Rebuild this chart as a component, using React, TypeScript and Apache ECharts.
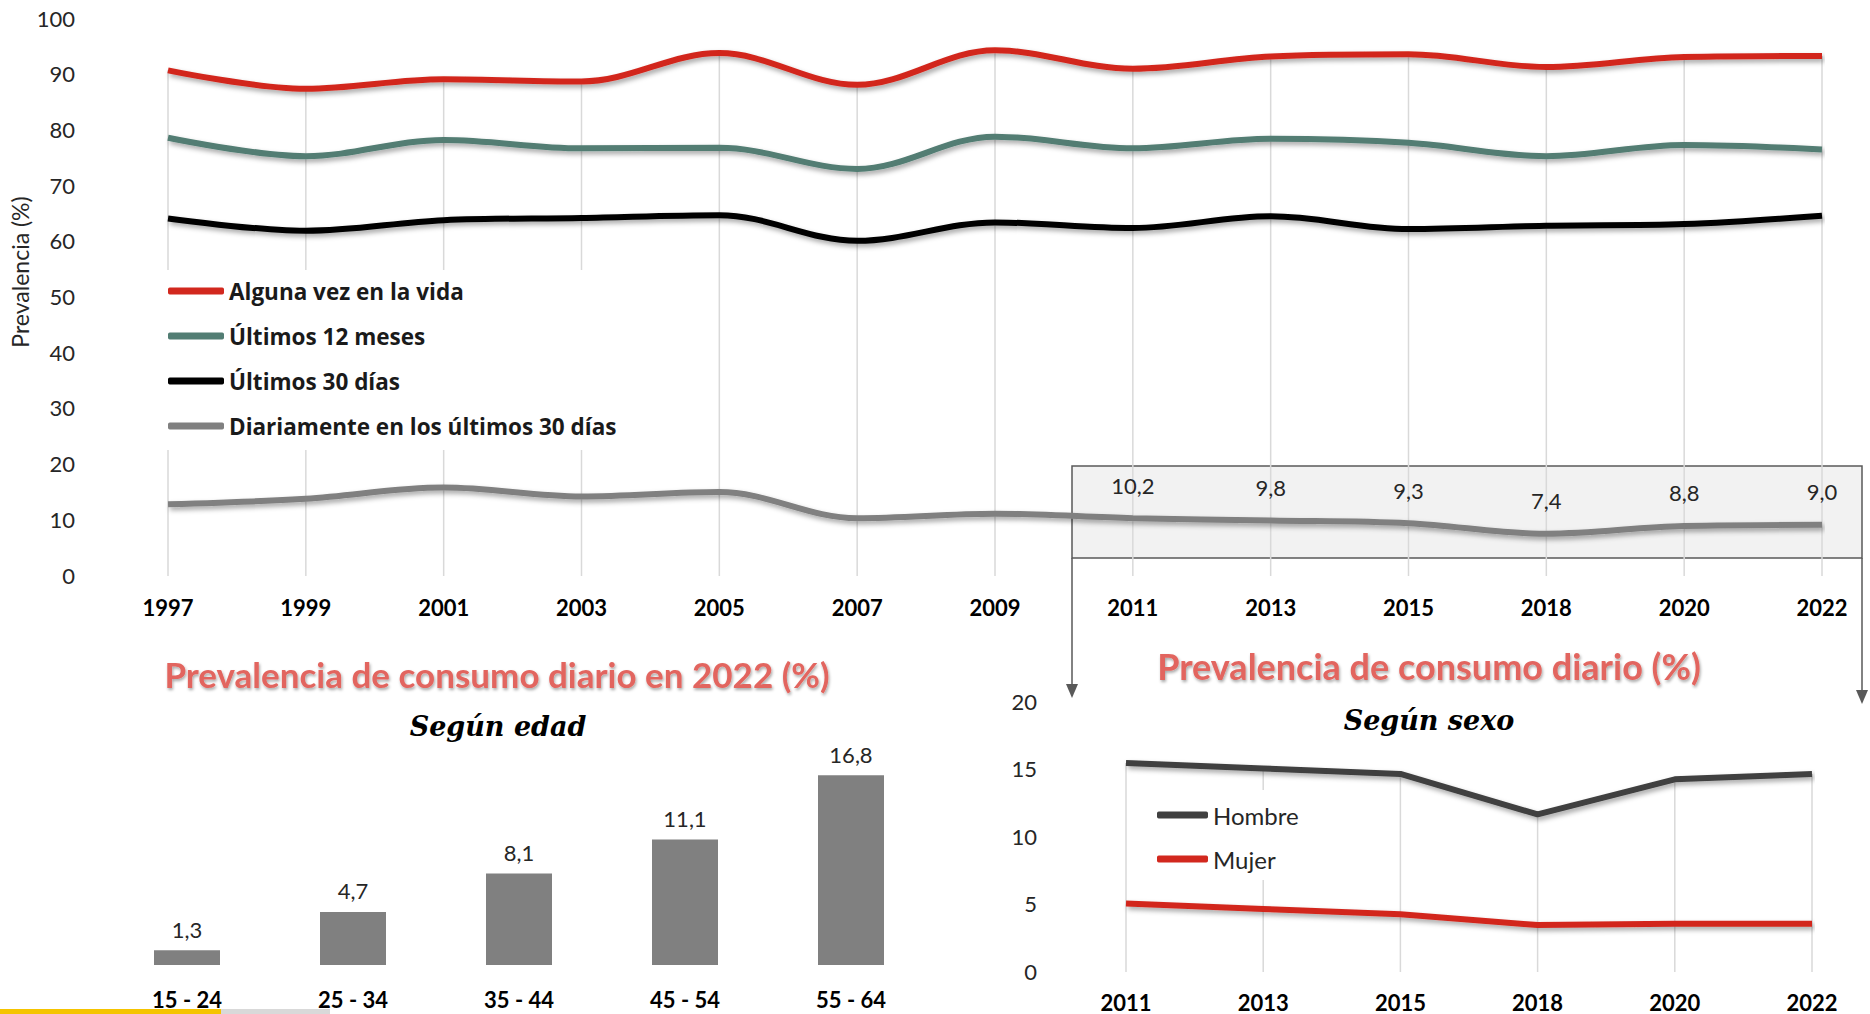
import React, { useEffect, useRef } from "react";
import * as echarts from "echarts";

const years = ["1997", "1999", "2001", "2003", "2005", "2007", "2009", "2011", "2013", "2015", "2018", "2020", "2022"];
const algunaVez = [90.6, 87.3, 89.0, 88.6, 93.7, 88.0, 94.2, 90.9, 93.1, 93.5, 91.2, 93.0, 93.2];
const ultimos12 = [78.5, 75.2, 78.1, 76.6, 76.7, 72.9, 78.7, 76.6, 78.3, 77.6, 75.2, 77.2, 76.4];
const ultimos30 = [64.0, 61.8, 63.7, 64.1, 64.6, 60.0, 63.3, 62.3, 64.4, 62.1, 62.7, 63.0, 64.5];
const diario = [12.7, 13.7, 15.7, 14.1, 14.9, 10.2, 11.0, 10.2, 9.8, 9.3, 7.4, 8.8, 9.0];
const labeledFrom = 7;

const ageGroups = ["15 - 24", "25 - 34", "35 - 44", "45 - 54", "55 - 64"];
const ageValues = [1.3, 4.7, 8.1, 11.1, 16.8];

const sexYears = ["2011", "2013", "2015", "2018", "2020", "2022"];
const hombre = [15.4, 15.0, 14.6, 11.6, 14.2, 14.6];
const mujer = [5.0, 4.6, 4.2, 3.4, 3.5, 3.5];

const topTicks = { min: 0, max: 100, interval: 10 };
const sexTicks = { min: 0, max: 20, interval: 5 };

const FONT = "Lato, 'Noto Sans', sans-serif";
const BOLDFONT = "'Open Sans', Lato, sans-serif";
const fmt = (v: number) => v.toFixed(1).replace(".", ",");

const shadow = {
  shadowColor: "rgba(0,0,0,0.35)",
  shadowBlur: 5,
  shadowOffsetX: 2,
  shadowOffsetY: 3,
};

function dropLine(color: string) {
  return (params: any, api: any) => {
    const top = api.coord([api.value(0), api.value(1)]);
    const bot = api.coord([api.value(0), 0]);
    return {
      type: "line",
      shape: { x1: top[0], y1: top[1], x2: bot[0], y2: bot[1] + 1 },
      style: { stroke: color, lineWidth: 1.5 },
    };
  };
}

export default function App() {
  const ref = useRef<HTMLDivElement>(null);
  useEffect(() => {
    if (!ref.current) return;
    const chart = echarts.init(ref.current, undefined, { renderer: "svg" });
    const option: any = {
      animation: false,
      backgroundColor: "#ffffff",
      grid: [
        { left: 168, right: 48, top: 18, bottom: 439 },
        { left: 104, right: 936, top: 739, bottom: 49 },
        { left: 1126, right: 58, top: 701, bottom: 43 },
      ],
      xAxis: [
        {
          gridIndex: 0,
          type: "category",
          boundaryGap: false,
          data: years,
          axisLine: { show: false },
          axisTick: { show: false },
          axisLabel: { margin: 21, fontFamily: FONT, fontWeight: "bold", fontSize: 22, color: "#000" },
        },
        {
          gridIndex: 1,
          type: "category",
          data: ageGroups,
          axisLine: { show: false },
          axisTick: { show: false },
          axisLabel: { margin: 23, fontFamily: FONT, fontWeight: "bold", fontSize: 22, color: "#000" },
        },
        {
          gridIndex: 2,
          type: "category",
          boundaryGap: false,
          data: sexYears,
          axisLine: { show: false },
          axisTick: { show: false },
          axisLabel: { margin: 20, fontFamily: FONT, fontWeight: "bold", fontSize: 22, color: "#000" },
        },
      ],
      yAxis: [
        {
          gridIndex: 0,
          type: "value",
          min: topTicks.min,
          max: topTicks.max,
          interval: topTicks.interval,
          axisLine: { show: false },
          axisTick: { show: false },
          splitLine: { show: false },
          axisLabel: { margin: 93, fontFamily: FONT, fontSize: 22, color: "#262626" },
        },
        {
          gridIndex: 1,
          type: "value",
          min: 0,
          max: 20,
          show: false,
          splitLine: { show: false },
        },
        {
          gridIndex: 2,
          type: "value",
          min: sexTicks.min,
          max: sexTicks.max,
          interval: sexTicks.interval,
          axisLine: { show: false },
          axisTick: { show: false },
          splitLine: { show: false },
          axisLabel: { margin: 89, fontFamily: FONT, fontSize: 22, color: "#262626" },
        },
      ],
      legend: [
        {
          data: ["Alguna vez en la vida", "Últimos 12 meses", "Últimos 30 días", "Diariamente en los últimos 30 días"],
          orient: "vertical",
          left: 158,
          top: 270,
          padding: [9, 20, 12, 10],
          itemWidth: 56,
          itemHeight: 7,
          itemGap: 21,
          icon: "roundRect",
          backgroundColor: "#ffffff",
          textStyle: { fontFamily: BOLDFONT, fontWeight: "bold", fontSize: 22.5, color: "#1a1a1a", lineHeight: 24 },
        },
        {
          data: ["Hombre", "Mujer"],
          orient: "vertical",
          left: 1150,
          top: 790,
          padding: [13, 20, 9, 7],
          itemWidth: 51,
          itemHeight: 7,
          itemGap: 20,
          icon: "roundRect",
          backgroundColor: "#ffffff",
          textStyle: { fontFamily: FONT, fontSize: 24, color: "#262626", lineHeight: 24 },
        },
      ],
      series: [
        {
          type: "custom",
          name: "drop-top",
          xAxisIndex: 0,
          yAxisIndex: 0,
          silent: true,
          z: 1,
          data: years.map((_, i) => [i, algunaVez[i]]),
          renderItem: dropLine("#d9d9d9"),
        },
        {
          type: "line",
          name: "Alguna vez en la vida",
          xAxisIndex: 0,
          yAxisIndex: 0,
          data: algunaVez,
          smooth: 0.35,
          showSymbol: false,
          color: "#d2281e",
          lineStyle: { width: 6, color: "#d2281e", ...shadow },
        },
        {
          type: "line",
          name: "Últimos 12 meses",
          xAxisIndex: 0,
          yAxisIndex: 0,
          data: ultimos12,
          smooth: 0.35,
          showSymbol: false,
          color: "#527d73",
          lineStyle: { width: 6, color: "#527d73", ...shadow },
        },
        {
          type: "line",
          name: "Últimos 30 días",
          xAxisIndex: 0,
          yAxisIndex: 0,
          data: ultimos30,
          smooth: 0.35,
          showSymbol: false,
          color: "#000000",
          lineStyle: { width: 6, color: "#000000", ...shadow },
        },
        {
          type: "line",
          name: "Diariamente en los últimos 30 días",
          xAxisIndex: 0,
          yAxisIndex: 0,
          data: diario.map((v, i) => (i >= labeledFrom ? { value: v, label: { show: true } } : v)),
          smooth: 0.35,
          showSymbol: true,
          symbol: "circle",
          symbolSize: 0,
          color: "#808080",
          lineStyle: { width: 6, color: "#808080", ...shadow },
          label: {
            show: false,
            position: "top",
            distance: 22,
            formatter: (p: any) => fmt(p.value),
            fontFamily: FONT,
            fontSize: 22,
            color: "#262626",
          },
        },
        {
          type: "bar",
          name: "edad",
          xAxisIndex: 1,
          yAxisIndex: 1,
          data: ageValues,
          barWidth: 66,
          itemStyle: { color: "#808080" },
          label: {
            show: true,
            position: "top",
            distance: 10,
            formatter: (p: any) => fmt(p.value),
            fontFamily: FONT,
            fontSize: 22,
            color: "#262626",
          },
        },
        {
          type: "custom",
          name: "drop-sex",
          xAxisIndex: 2,
          yAxisIndex: 2,
          silent: true,
          z: 1,
          data: sexYears.map((_, i) => [i, hombre[i]]),
          renderItem: dropLine("#d9d9d9"),
        },
        {
          type: "line",
          name: "Hombre",
          xAxisIndex: 2,
          yAxisIndex: 2,
          data: hombre,
          showSymbol: false,
          color: "#404040",
          lineStyle: { width: 6, color: "#404040", ...shadow },
        },
        {
          type: "line",
          name: "Mujer",
          xAxisIndex: 2,
          yAxisIndex: 2,
          data: mujer,
          showSymbol: false,
          color: "#d2281e",
          lineStyle: { width: 6, color: "#d2281e", ...shadow },
        },
      ],
      graphic: [
        {
          type: "text",
          x: 20,
          y: 272,
          rotation: Math.PI / 2,
          style: {
            text: "Prevalencia (%)",
            fill: "#262626",
            font: `23px ${FONT}`,
            align: "center",
            verticalAlign: "middle",
          },
        },
        {
          type: "rect",
          z: -1,
          shape: { x: 1072, y: 466, width: 790, height: 92 },
          style: { fill: "#f2f2f2", stroke: "#595959", lineWidth: 1.5 },
        },
        {
          type: "line",
          shape: { x1: 1072, y1: 558, x2: 1072, y2: 688 },
          style: { stroke: "#595959", lineWidth: 1.5 },
        },
        {
          type: "polygon",
          shape: { points: [[1066, 684], [1078, 684], [1072, 698]] },
          style: { fill: "#595959" },
        },
        {
          type: "line",
          shape: { x1: 1862, y1: 558, x2: 1862, y2: 694 },
          style: { stroke: "#595959", lineWidth: 1.5 },
        },
        {
          type: "polygon",
          shape: { points: [[1856, 690], [1868, 690], [1862, 704]] },
          style: { fill: "#595959" },
        },
        {
          type: "text",
          x: 497,
          y: 674,
          style: {
            text: "Prevalencia de consumo diario en 2022 (%)",
            fill: "#e2655f",
            font: `bold 35px ${FONT}`,
            align: "center",
            verticalAlign: "middle",
            textShadowColor: "rgba(0,0,0,0.35)",
            textShadowBlur: 3,
            textShadowOffsetX: 1,
            textShadowOffsetY: 2,
          },
        },
        {
          type: "text",
          x: 498,
          y: 726,
          style: {
            text: "Según edad",
            fill: "#000",
            font: `italic bold 27px 'DejaVu Serif', serif`,
            align: "center",
            verticalAlign: "middle",
          },
        },
        {
          type: "text",
          x: 1429,
          y: 666,
          style: {
            text: "Prevalencia de consumo diario (%)",
            fill: "#e2655f",
            font: `bold 36px ${FONT}`,
            align: "center",
            verticalAlign: "middle",
            textShadowColor: "rgba(0,0,0,0.35)",
            textShadowBlur: 3,
            textShadowOffsetX: 1,
            textShadowOffsetY: 2,
          },
        },
        {
          type: "text",
          x: 1429,
          y: 720,
          style: {
            text: "Según sexo",
            fill: "#000",
            font: `italic bold 27px 'DejaVu Serif', serif`,
            align: "center",
            verticalAlign: "middle",
          },
        },
        {
          type: "rect",
          shape: { x: 0, y: 1009, width: 221, height: 5 },
          style: { fill: "#f5c400" },
        },
        {
          type: "rect",
          shape: { x: 221, y: 1009, width: 109, height: 5 },
          style: { fill: "#d9d9d9" },
        },
      ],
    };
    chart.setOption(option);
    return () => chart.dispose();
  }, []);
  return (
    <div
      ref={ref}
      style={{ position: "fixed", left: 0, top: 0, width: 1870, height: 1014 }}
    />
  );
}
